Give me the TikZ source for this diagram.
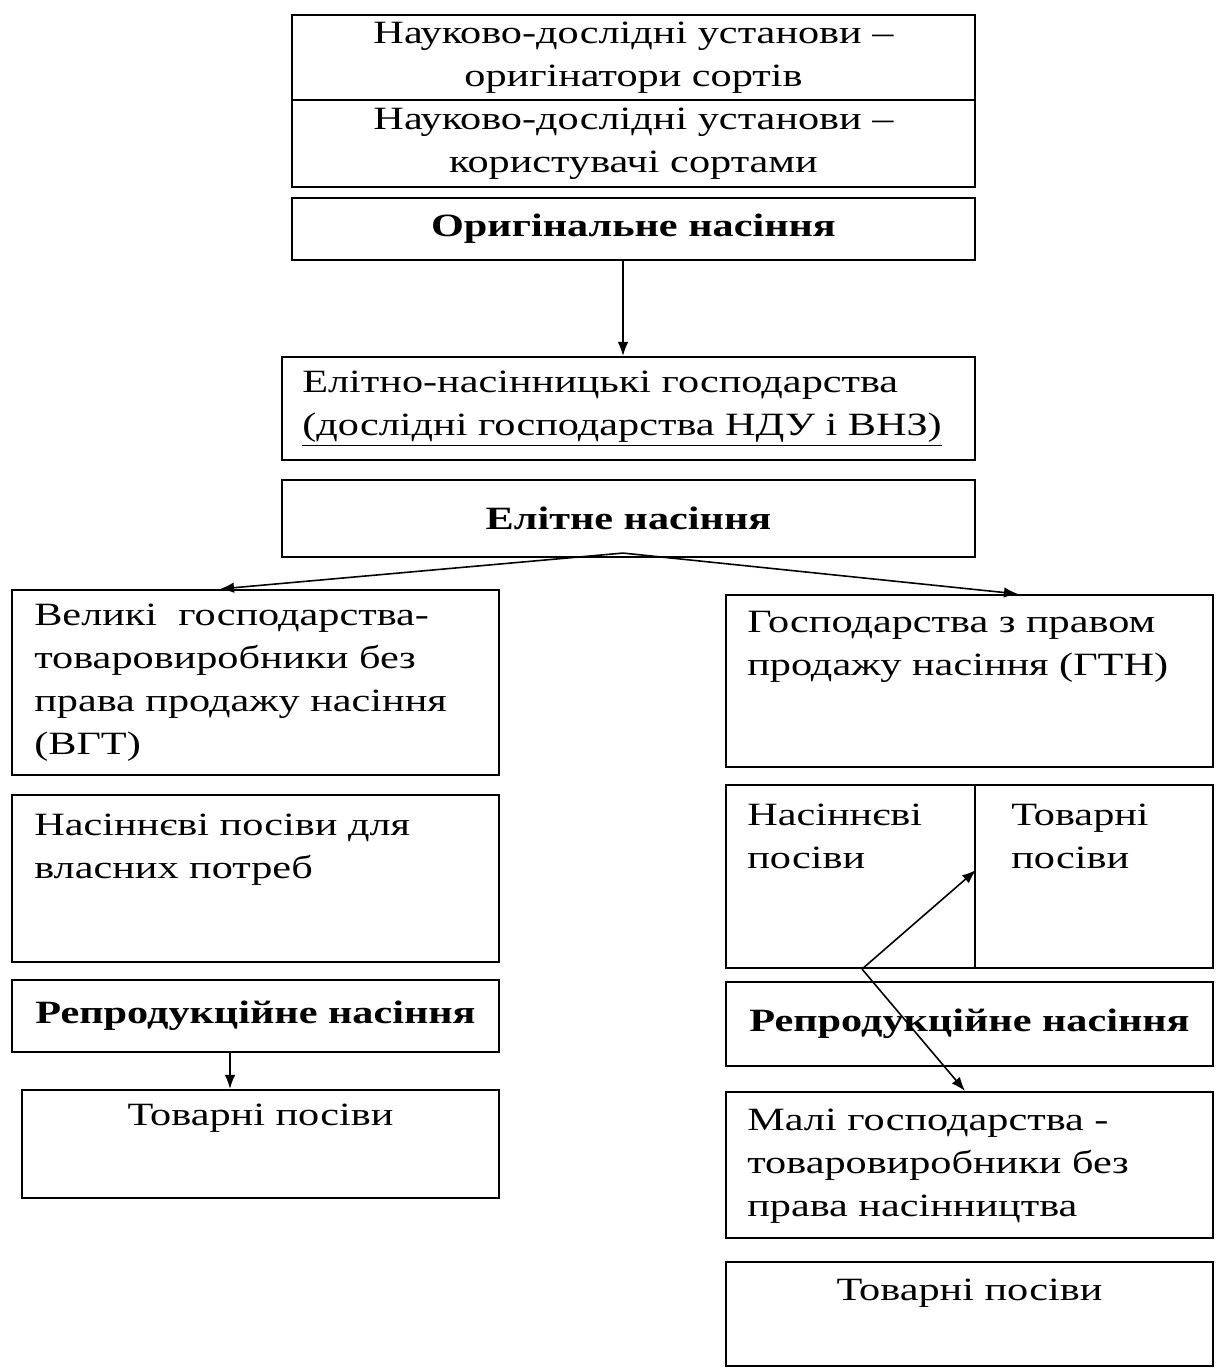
\documentclass[tikz,border=0pt]{standalone}
\usepackage{fontspec}
\setmainfont{Liberation Serif}[FakeStretch=1.3]
\usepackage{tikz}
\usetikzlibrary{positioning,arrows.meta}

\begin{document}
\begin{tikzpicture}[font=\fontsize{18.5}{24.5}\selectfont,
    box/.style={draw, line width=1.2pt, inner sep=0pt, align=center},
    txt/.style={inner sep=0pt, align=left},
    arr/.style={-{Latex[length=2.8mm,width=2.1mm]}, line width=0.9pt}]
  \useasboundingbox (0,0) rectangle (24.38,-27.38);
  % upper column
  \node[box,minimum width=13.66cm,minimum height=1.70cm] (orig) at (12.67,-1.15) {Науково-дослідні установи –\\оригінатори сортів};
  \node[box,minimum width=13.66cm,minimum height=1.74cm] (users) at (12.67,-2.87) {Науково-дослідні установи –\\користувачі сортами};
  \node[box,minimum width=13.66cm,minimum height=1.24cm] (origseed) at (12.67,-4.58) {\textbf{Оригінальне насіння}};
  \node[box,minimum width=13.86cm,minimum height=2.06cm] (elitefarm) at (12.57,-8.17) {};
  \node[txt,right=0.42cm of elitefarm.west] (elitefarmtxt) {Елітно-насінницькі господарства\\\underline{(дослідні господарства НДУ і ВНЗ)}};
  \node[box,minimum width=13.86cm,minimum height=1.54cm] (eliteseed) at (12.57,-10.37) {\textbf{Елітне насіння}};
  % left column
  \node[box,minimum width=9.74cm,minimum height=3.70cm] (bigfarm) at (5.11,-13.65) {};
  \node[txt,below right=0.3cm and 0.46cm of bigfarm.north west] (bigfarmtxt) {Великі\ \ господарства-\\товаровиробники без\\права продажу насіння\\(ВГТ)};
  \node[box,minimum width=9.74cm,minimum height=3.34cm] (ownsow) at (5.11,-17.57) {};
  \node[txt,below right=0.4cm and 0.46cm of ownsow.north west] (ownsowtxt) {Насіннєві посіви для\\власних потреб};
  \node[box,minimum width=9.74cm,minimum height=1.44cm] (reprol) at (5.11,-20.32) {\textbf{Репродукційне насіння}};
  \node[box,minimum width=9.54cm,minimum height=2.16cm] (comml) at (5.21,-22.88) {};
  \node[txt,below=0.3cm of comml.north] (comml txt) {Товарні посіви};
  % right column
  \node[box,minimum width=9.74cm,minimum height=3.44cm] (gtn) at (19.39,-13.62) {};
  \node[txt,below right=0.34cm and 0.44cm of gtn.north west] (gtntxt) {Господарства з правом\\продажу насіння (ГТН)};
  \node[box,minimum width=4.98cm,minimum height=3.66cm] (seedsow) at (17.01,-17.53) {};
  \node[txt,below right=0.4cm and 0.44cm of seedsow.north west] (seedsowtxt) {Насіннєві\\посіви};
  \node[box,minimum width=4.76cm,minimum height=3.66cm] (commsow) at (21.88,-17.53) {};
  \node[txt,below right=0.4cm and 0.74cm of commsow.north west] (commsowtxt) {Товарні\\посіви};
  \node[box,minimum width=9.74cm,minimum height=1.68cm] (repror) at (19.39,-20.48) {\textbf{Репродукційне насіння}};
  \node[box,minimum width=9.74cm,minimum height=2.92cm] (smallfarm) at (19.39,-23.30) {};
  \node[txt,below right=0.36cm and 0.44cm of smallfarm.north west] (smallfarmtxt) {Малі господарства -\\товаровиробники без\\права насінництва};
  \node[box,minimum width=9.74cm,minimum height=2.08cm] (commr) at (19.39,-26.28) {};
  \node[txt,below=0.36cm of commr.north] (commrtxt) {Товарні посіви};
  % arrows
  \coordinate (split) at ([xshift=-0.11cm,yshift=0.1cm]eliteseed.south);
  \coordinate (fork) at ([xshift=0.23cm]seedsow.south);
  \draw[arr] ([xshift=-0.21cm]origseed.south) -- ([xshift=-0.21cm]origseed.south |- elitefarm.north);
  \draw[arr] (split) -- ([xshift=-0.71cm]bigfarm.north);
  \draw[arr] (split) -- ([xshift=0.97cm]gtn.north);
  \draw[arr] ([xshift=-0.51cm]reprol.south) -- ([xshift=-0.51cm]reprol.south |- comml.north);
  \draw[arr] (fork) -- ([yshift=0.13cm]seedsow.east);
  \draw[arr] (fork) -- ([xshift=-0.09cm]smallfarm.north);
\end{tikzpicture}
\end{document}
